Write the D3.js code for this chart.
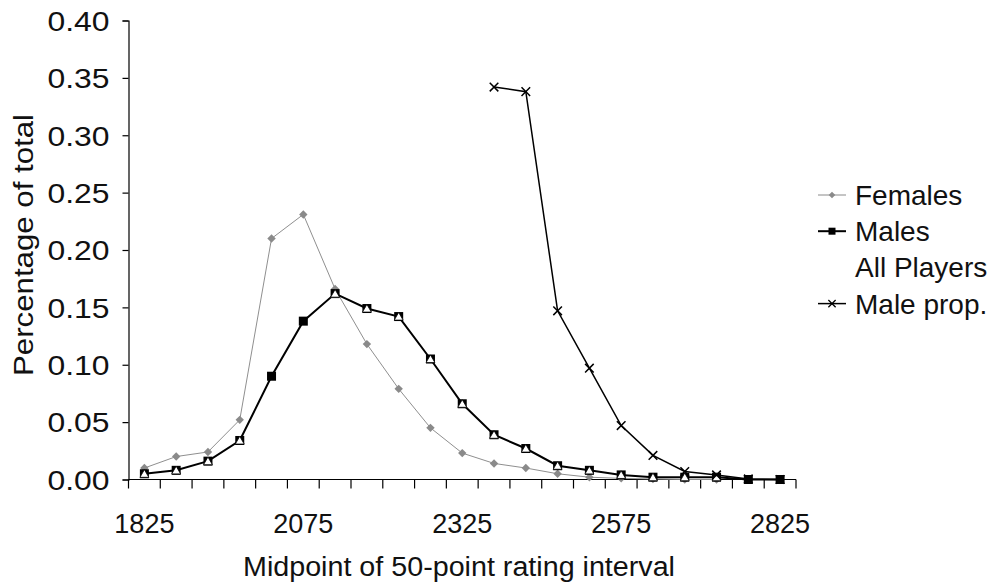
<!DOCTYPE html>
<html>
<head>
<meta charset="utf-8">
<script src="https://cdn.jsdelivr.net/npm/d3@7"></script>
<style>
  body { margin: 0; background: #fff; }
  svg { display: block; font-family: "Liberation Sans", Arial, sans-serif; }
</style>
</head>
<body>
<script>
const categories = [1825, 1875, 1925, 1975, 2025, 2075, 2125, 2175, 2225, 2275, 2325,
  2375, 2425, 2475, 2525, 2575, 2625, 2675, 2725, 2775, 2825];
const tickLabels = [1825, 2075, 2325, 2575, 2825];
const yTicks = [0, 0.05, 0.10, 0.15, 0.20, 0.25, 0.30, 0.35, 0.40];

const females = [0.010, 0.020, 0.024, 0.052, 0.210, 0.231, 0.166, 0.118, 0.079, 0.045, 0.023,
  0.014, 0.010, 0.005, 0.002, 0.001, 0.0005, 0, 0, null, null];
const males = [0.005, 0.008, 0.016, 0.034, 0.090, 0.138, 0.162, 0.149, 0.142, 0.105, 0.066,
  0.039, 0.027, 0.012, 0.008, 0.004, 0.002, 0.002, 0.002, 0, 0];
// all players: white triangle markers, sit on the male squares
const allPlayers = [0.005, 0.008, 0.016, 0.034, null, null, 0.162, 0.149, 0.142, 0.105, 0.066,
  0.039, 0.027, 0.012, 0.008, 0.004, 0.002, 0.002, 0.002, null, null];
const maleProp = [null, null, null, null, null, null, null, null, null, null, null,
  0.342, 0.338, 0.147, 0.097, 0.047, 0.021, 0.007, 0.004, 0.0005, 0];

const W = 1000, H = 587;
const plotLeft = 128.5, plotRight = 796, plotTop = 20.5, plotBottom = 479.5;

const svg = d3.select("body").append("svg").attr("width", W).attr("height", H);

const x = d3.scaleBand().domain(categories).range([plotLeft, plotRight]).padding(0);
const y = d3.scaleLinear().domain([0, 0.4]).range([plotBottom, plotTop]);
const cx = d => x(d) + x.bandwidth() / 2;

// y axis
const yAxis = svg.append("g").attr("transform", `translate(${plotLeft},0)`)
  .call(d3.axisLeft(y).tickValues(yTicks).tickFormat(d3.format(".2f")).tickSize(6).tickPadding(13));
yAxis.select(".domain").attr("stroke", "#000").attr("stroke-width", 1.2);
yAxis.selectAll(".tick line").attr("stroke-width", 1.2);
yAxis.selectAll("text").attr("font-size", 28).attr("fill", "#111")
  .attr("font-family", "Liberation Sans, Arial, sans-serif")
  .attr("dy", "0.35em").attr("textLength", 62).attr("lengthAdjust", "spacingAndGlyphs");

// x axis: ticks between categories
const xg = svg.append("g");
xg.append("line").attr("x1", plotLeft).attr("x2", plotRight).attr("y1", plotBottom).attr("y2", plotBottom)
  .attr("stroke", "#000").attr("stroke-width", 1.2);
const edges = categories.map(c => x(c)).concat([plotRight]);
xg.selectAll("line.tick").data(edges).enter().append("line").attr("class", "tick")
  .attr("x1", d => d).attr("x2", d => d).attr("y1", plotBottom).attr("y2", plotBottom + 9)
  .attr("stroke", "#000").attr("stroke-width", 1.2);
xg.selectAll("text").data(tickLabels).enter().append("text")
  .attr("x", d => cx(d)).attr("y", 533).attr("text-anchor", "middle")
  .attr("font-size", 27).attr("fill", "#111").text(d => d);

// titles
svg.append("text").attr("x", 459).attr("y", 576).attr("text-anchor", "middle")
  .attr("font-size", 27).attr("fill", "#111")
  .attr("textLength", 432).attr("lengthAdjust", "spacingAndGlyphs")
  .text("Midpoint of 50-point rating interval");
svg.append("text").attr("transform", "translate(33,245) rotate(-90)").attr("text-anchor", "middle")
  .attr("font-size", 27).attr("fill", "#111")
  .attr("textLength", 262).attr("lengthAdjust", "spacingAndGlyphs")
  .text("Percentage of total");

const line = d3.line().defined(d => d[1] != null).x(d => cx(d[0])).y(d => y(d[1]));
const pts = arr => categories.map((c, i) => [c, arr[i]]);
const sym = (type, size) => d3.symbol().type(type).size(size)();

// females
svg.append("path").attr("d", line(pts(females))).attr("fill", "none")
  .attr("stroke", "#8f8f8f").attr("stroke-width", 1);
svg.selectAll("path.fem").data(pts(females).filter(d => d[1] != null)).enter().append("path")
  .attr("class", "fem").attr("d", sym(d3.symbolDiamond2, 45))
  .attr("transform", d => `translate(${cx(d[0])},${y(d[1])})`).attr("fill", "#8a8a8a");

// males
svg.append("path").attr("d", line(pts(males))).attr("fill", "none")
  .attr("stroke", "#000").attr("stroke-width", 2);
svg.selectAll("rect.male").data(pts(males)).enter().append("rect").attr("class", "male")
  .attr("x", d => cx(d[0]) - 4.5).attr("y", d => y(d[1]) - 4.5).attr("width", 9).attr("height", 9)
  .attr("fill", "#000");

// all players (white)
svg.selectAll("path.all").data(pts(allPlayers).filter(d => d[1] != null)).enter().append("path")
  .attr("class", "all").attr("d", sym(d3.symbolTriangle, 34))
  .attr("transform", d => `translate(${cx(d[0])},${y(d[1]) + 1})`)
  .attr("fill", "#fff").attr("stroke", "#000").attr("stroke-width", 0.8);

// male prop.
svg.append("path").attr("d", line(pts(maleProp))).attr("fill", "none")
  .attr("stroke", "#000").attr("stroke-width", 1.5);
svg.selectAll("path.mp").data(pts(maleProp).filter(d => d[1] != null)).enter().append("path")
  .attr("class", "mp").attr("d", sym(d3.symbolX, 50))
  .attr("transform", d => `translate(${cx(d[0])},${y(d[1])})`)
  .attr("fill", "none").attr("stroke", "#000").attr("stroke-width", 1.5);

// legend
const legend = [
  { name: "Females", color: "#8a8a8a", w: 1, mark: "diamond" },
  { name: "Males", color: "#000", w: 2, mark: "square" },
  { name: "All Players", color: "#fff", w: 1, mark: "none" },
  { name: "Male prop.", color: "#000", w: 1.5, mark: "x" }
];
const lg = svg.append("g").attr("transform", "translate(818,195)");
legend.forEach((l, i) => {
  const g = lg.append("g").attr("transform", `translate(0,${i * 36.2})`);
  g.append("line").attr("x1", 0).attr("x2", 28).attr("y1", 0).attr("y2", 0)
    .attr("stroke", l.color).attr("stroke-width", l.w);
  if (l.mark === "diamond") g.append("path").attr("d", sym(d3.symbolDiamond2, 28))
    .attr("transform", "translate(14,0)").attr("fill", l.color);
  if (l.mark === "square") g.append("rect").attr("x", 10.5).attr("y", -3.5).attr("width", 7).attr("height", 7).attr("fill", "#000");
  if (l.mark === "x") g.append("path").attr("d", sym(d3.symbolX, 36))
    .attr("transform", "translate(14,0)").attr("fill", "none").attr("stroke", "#000").attr("stroke-width", 1.3);
  g.append("text").attr("x", 37).attr("y", 10).attr("font-size", 28).attr("fill", "#111").text(l.name);
});
</script>
</body>
</html>
